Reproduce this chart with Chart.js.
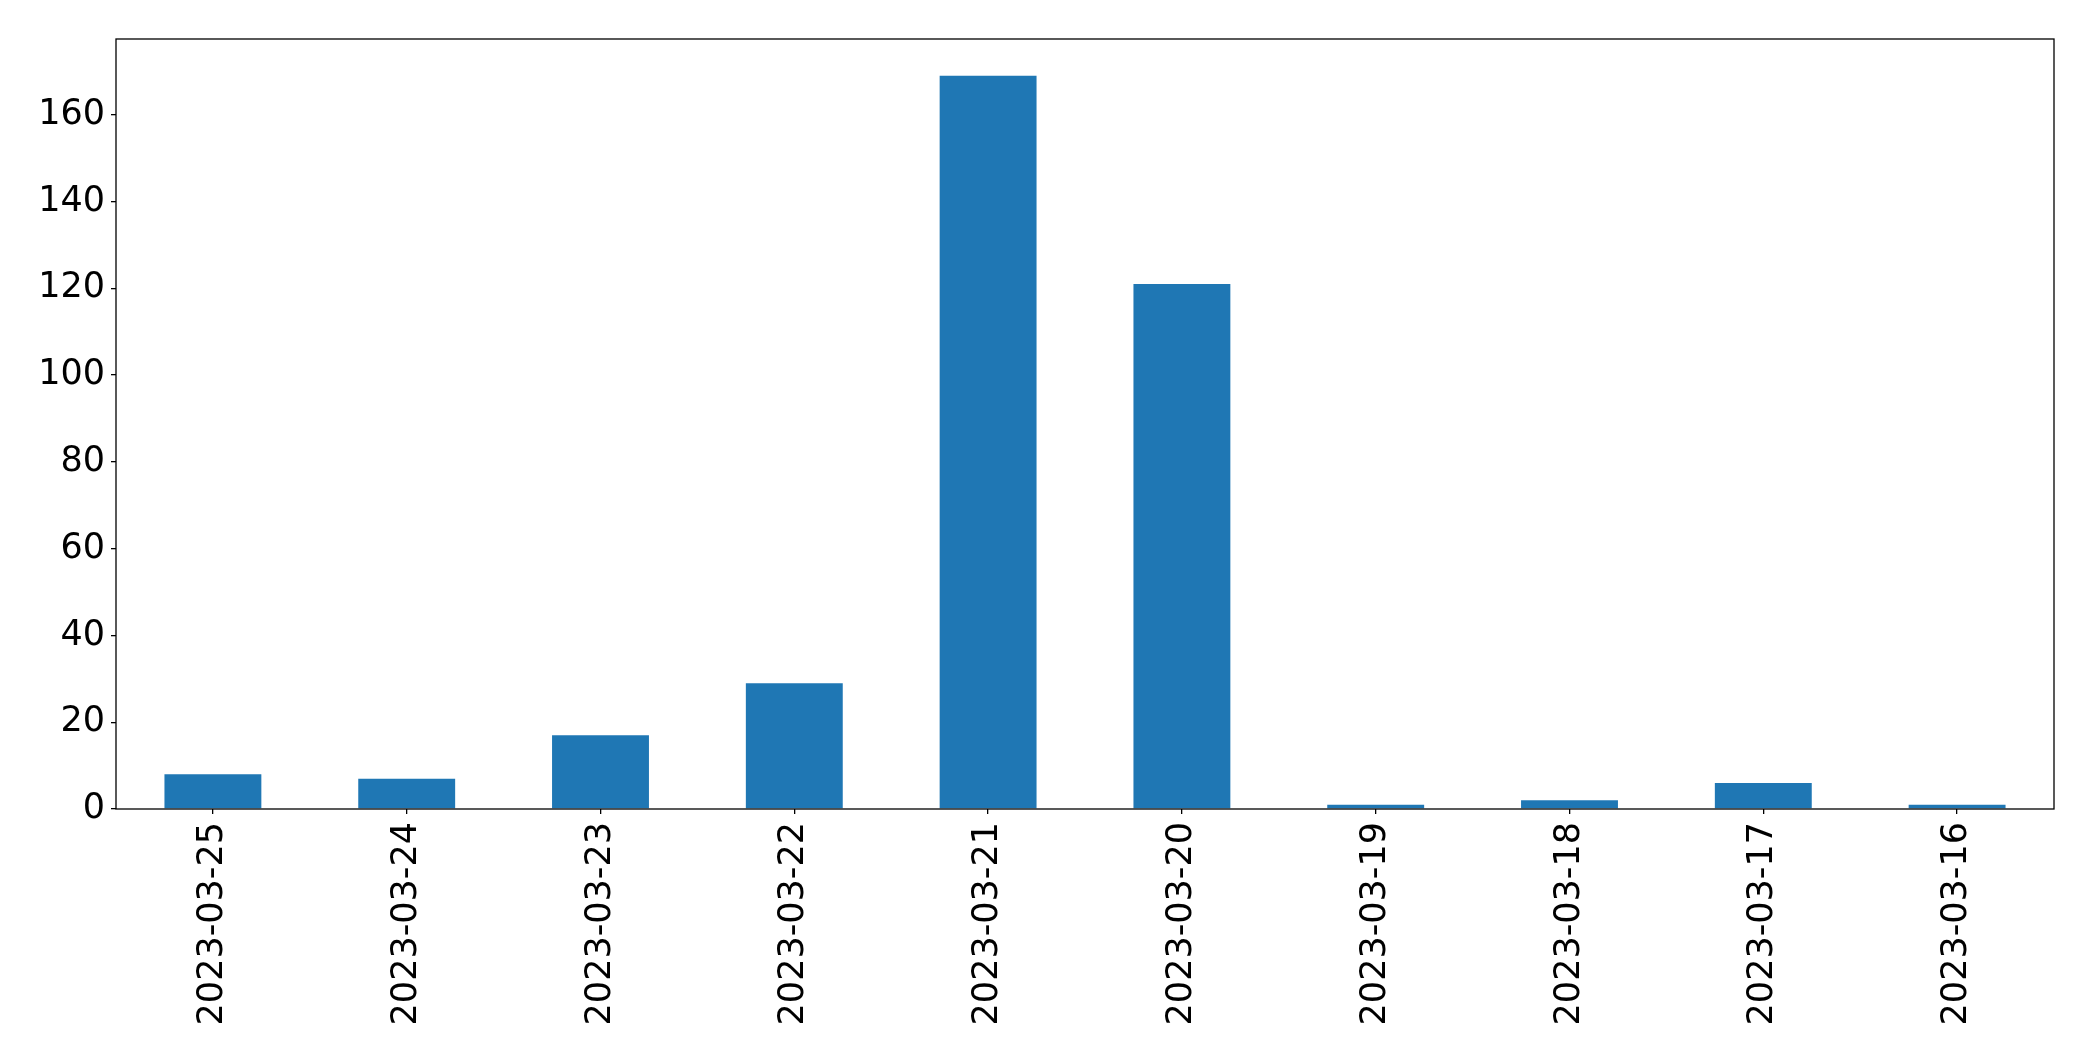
<!DOCTYPE html>
<html>
<head>
<meta charset="utf-8">
<script src="https://cdn.jsdelivr.net/npm/chart.js@4.4.0/dist/chart.umd.min.js"></script>
<style>
  html, body { margin: 0; padding: 0; background: #fff; }
  #wrap { width: 2093px; height: 1061px; }
</style>
</head>
<body>
<div id="wrap"><canvas id="bar" width="2093" height="1061"></canvas></div>
<script>
const labels = ['2023-03-25', '2023-03-24', '2023-03-23', '2023-03-22', '2023-03-21',
                '2023-03-20', '2023-03-19', '2023-03-18', '2023-03-17', '2023-03-16'];
const counts = [8, 7, 17, 29, 169, 121, 1, 2, 6, 1];
const yTicks = [0, 20, 40, 60, 80, 100, 120, 140, 160];
const yMax = 177.45;

// draw the full axes box like matplotlib
const frame = {
    id: 'frame',
    afterDraw(chart) {
        const { ctx, chartArea: a } = chart;
        ctx.save();
        ctx.strokeStyle = '#000';
        ctx.lineWidth = 1.3;
        ctx.strokeRect(a.left, a.top, a.right - a.left, a.bottom - a.top);
        ctx.restore();
    }
};

const font = { family: 'DejaVu Sans', size: 35 };

new Chart(document.getElementById('bar').getContext('2d'), {
    type: 'bar',
    data: {
        labels: labels,
        datasets: [
            {
                data: counts,
                backgroundColor: '#1f77b4',
                barPercentage: 0.5,
                categoryPercentage: 1.0
            }
        ]
    },
    options: {
        responsive: false,
        animation: false,
        layout: { padding: { top: 39, right: 39, left: 0, bottom: 0 } },
        plugins: { legend: { display: false }, tooltip: { enabled: false } },
        scales: {
            x: {
                grid: { display: true, drawOnChartArea: false, offset: false, tickLength: 5, color: '#000', lineWidth: 1.3 },
                border: { display: false },
                ticks: { color: '#000', font: font, minRotation: 90, maxRotation: 90, padding: 8, autoSkip: false },
                afterFit(scale) { scale.height = 252; }
            },
            y: {
                min: 0,
                max: yMax,
                grid: { display: true, drawOnChartArea: false, tickLength: 5, color: '#000', lineWidth: 1.3 },
                border: { display: false },
                ticks: { color: '#000', font: font, padding: 6 },
                afterBuildTicks(scale) { scale.ticks = yTicks.map(v => ({ value: v })); },
                afterFit(scale) { scale.width = 116; }
            }
        }
    },
    plugins: [frame]
});
</script>
</body>
</html>
